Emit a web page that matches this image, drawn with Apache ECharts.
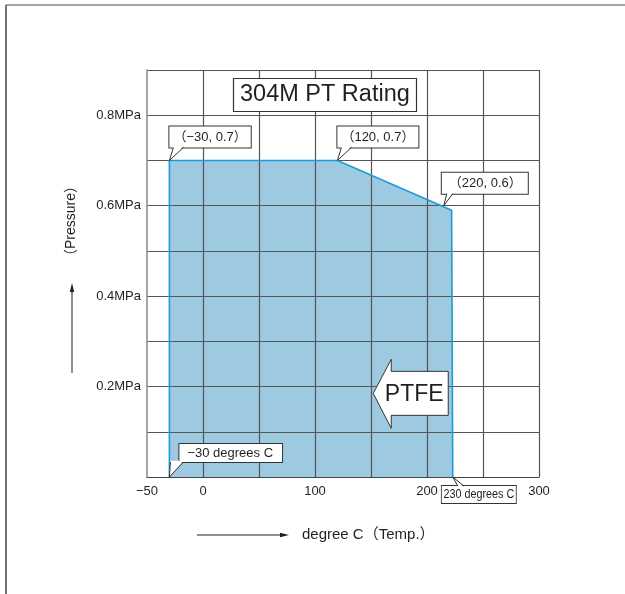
<!DOCTYPE html>
<html>
<head>
<meta charset="utf-8">
<script src="https://cdn.jsdelivr.net/npm/echarts@6/dist/echarts.min.js"></script>
<style>
html,body{margin:0;padding:0;background:#fff;}
#c{width:625px;height:594px;}
</style>
</head>
<body>
<div id="c"></div>
<script>
// ---- data ----
const titleText = '304M PT Rating';
const xMin = -50, xMax = 300, xStep = 50;
const yMin = 0, yMax = 0.9, yStep = 0.1;
const xLabelValues = [-50, 0, 100, 200, 300];
const xLabelTexts = ['\u221250', '0', '100', '200', '300'];
const yLabelValues = [0.2, 0.4, 0.6, 0.8];
const yLabelTexts = ['0.2MPa', '0.4MPa', '0.6MPa', '0.8MPa'];
const areaTemp = [-30, -30, 120, 222, 223];
const areaPress = [0, 0.7, 0.7, 0.59, 0];
const calloutText = ['\uff08\u221230, 0.7\uff09', '\uff08120, 0.7\uff09', '\uff08220, 0.6\uff09', '\u221230 degrees C', '230 degrees C'];
const calloutTemp = [-30, 120, 215, -30, 223];
const calloutPress = [0.7, 0.7, 0.6, 0, 0];
const ptfeText = 'PTFE';
const ptfeTip = [[152, 0.185]];
const xName = 'degree C\uff08Temp.\uff09';
const yName = '\uff08Pressure\uff09';

// ---- layout / style (not data) ----
const FONT = '"Liberation Sans", Arial, "Noto Sans CJK JP", sans-serif';
const INK = '#231f20';
const calloutLayout = [
  {dx: 0,  dy: -13, below: false, pad: [3, 4, 3, 4], size: 13, lh: 15, base: [4, 14], sx: 1},
  {dx: 0,  dy: -13, below: false, pad: [3, 4, 3, 4], size: 13, lh: 15, base: [4, 14], sx: 1},
  {dx: -2, dy: -12, below: false, pad: [3, 6, 3, 7], size: 13, lh: 15, base: [3, 9], sx: 1},
  {dx: 10, dy: -15, below: false, pad: [2, 9, 2, 8], size: 13, lh: 14, base: [1, 14], sx: 1},
  {dx: -11, dy: 9, below: true, pad: [2, 2, 2, 2], size: 13, lh: 13, base: [5, 11], sx: 0.83}
];

const areaData = areaTemp.map((t, i) => [t, areaPress[i]]);
const calloutData = calloutTemp.map((t, i) => [t, calloutPress[i]]);

function xFmt(v) {
  const k = xLabelValues.indexOf(Math.round(v));
  return k >= 0 ? xLabelTexts[k] : '';
}
function yFmt(v) {
  const r = Math.round(v * 10) / 10;
  const k = yLabelValues.indexOf(r);
  return k >= 0 ? yLabelTexts[k] : '';
}

const chart = echarts.init(document.getElementById('c'), null, {renderer: 'canvas'});
const option = {
  animation: false,
  backgroundColor: '#fff',
  title: {
    text: titleText,
    left: 233, top: 78,
    padding: [4, 7, 4, 7],
    borderColor: '#333', borderWidth: 1.2,
    backgroundColor: '#fff',
    textStyle: {fontFamily: FONT, fontSize: 23.5, fontWeight: 'normal', color: INK, lineHeight: 26},
    z: 12
  },
  grid: {left: 147, right: 86, top: 70, bottom: 117, containLabel: false},
  xAxis: {
    type: 'value', min: xMin, max: xMax, interval: xStep, z: 3,
    axisLine: {show: true, onZero: false, lineStyle: {color: '#444', width: 1.2}},
    axisTick: {show: false},
    axisLabel: {formatter: xFmt, fontFamily: FONT, fontSize: 13, color: INK, margin: 8},
    splitLine: {show: true, showMinLine: false, lineStyle: {color: '#555', width: 1.2}}
  },
  yAxis: {
    type: 'value', min: yMin, max: yMax, interval: yStep, z: 3,
    axisLine: {show: true, onZero: false, lineStyle: {color: '#888', width: 1.5}},
    axisTick: {show: false},
    axisLabel: {formatter: yFmt, fontFamily: FONT, fontSize: 13, color: INK, margin: 6},
    splitLine: {show: true, showMinLine: false, lineStyle: {color: '#555', width: 1.2}}
  },
  graphic: [
    {type: 'line', shape: {x1: 6, y1: 5, x2: 625, y2: 5}, style: {stroke: '#888', lineWidth: 1.5}},
    {type: 'line', shape: {x1: 6, y1: 5, x2: 6, y2: 594}, style: {stroke: '#444', lineWidth: 1.5}},
    {type: 'text', x: 71, y: 221, rotation: Math.PI / 2,
      style: {text: yName, font: '14px ' + FONT, fill: INK, align: 'center', verticalAlign: 'middle'}},
    {type: 'line', shape: {x1: 72, y1: 373, x2: 72, y2: 290}, style: {stroke: INK, lineWidth: 1}},
    {type: 'polygon', shape: {points: [[72, 283], [69.8, 292], [74.2, 292]]}, style: {fill: INK}},
    {type: 'line', shape: {x1: 197, y1: 535, x2: 281, y2: 535}, style: {stroke: INK, lineWidth: 1}},
    {type: 'polygon', shape: {points: [[289, 535], [280, 532.8], [280, 537.2]]}, style: {fill: INK}},
    {type: 'text', x: 302, y: 535,
      style: {text: xName, font: '15px ' + FONT, fill: INK, align: 'left', verticalAlign: 'middle'}}
  ],
  series: [
    {
      type: 'line', data: areaData, symbol: 'none', z: 1,
      lineStyle: {width: 0, opacity: 0},
      areaStyle: {color: '#9dcae1', opacity: 1},
      silent: true
    },
    {
      type: 'line', data: areaData, symbol: 'none', z: 5,
      lineStyle: {color: '#1b9bd8', width: 1.6},
      silent: true
    },
    {
      type: 'custom', coordinateSystem: 'cartesian2d', z: 8, silent: true,
      data: ptfeTip,
      renderItem: function (params, api) {
        const p = api.coord([api.value(0), api.value(1)]);
        const x = p[0], y = p[1];
        const pts = [[x, y], [x + 18, y - 34], [x + 18, y - 22], [x + 75, y - 22],
          [x + 75, y + 22], [x + 18, y + 22], [x + 18, y + 35]];
        return {type: 'group', children: [
          {type: 'polygon', shape: {points: pts}, style: {fill: '#fff', stroke: '#333', lineWidth: 1}},
          {type: 'text', z2: 2, style: {x: x + 41, y: y + 1, text: ptfeText, font: '23px ' + FONT,
            fill: INK, align: 'center', verticalAlign: 'middle'}}
        ]};
      }
    },
    {
      type: 'custom', coordinateSystem: 'cartesian2d', z: 10, silent: true, clip: false,
      data: calloutData,
      renderItem: function (params, api) {
        const i = params.dataIndex;
        const p = api.coord([api.value(0), api.value(1)]);
        const L = calloutLayout[i];
        const bx = p[0] + L.dx, by = p[1] + L.dy;
        const inset = L.below ? 1.2 : -1.2;
        const b0 = [p[0] + L.base[0], by], b1 = [p[0] + L.base[1], by];
        return {type: 'group', children: [
          {type: 'text', z2: 1, x: bx, y: by, scaleX: L.sx, style: {
            x: 0, y: 0, text: calloutText[i], font: L.size + 'px ' + FONT, fill: INK,
            align: 'left', verticalAlign: L.below ? 'top' : 'bottom',
            backgroundColor: '#fff', borderColor: '#333', borderWidth: 1,
            padding: L.pad, lineHeight: L.lh}},
          {type: 'polygon', z2: 2, shape: {points: [[b0[0], by + inset], [p[0], p[1]], [b1[0], by + inset]]},
            style: {fill: '#fff'}},
          {type: 'polyline', z2: 3, shape: {points: [b0, [p[0], p[1]], b1]},
            style: {stroke: '#333', lineWidth: 1, fill: null}}
        ]};
      }
    }
  ]
};
chart.setOption(option);
</script>
</body>
</html>
